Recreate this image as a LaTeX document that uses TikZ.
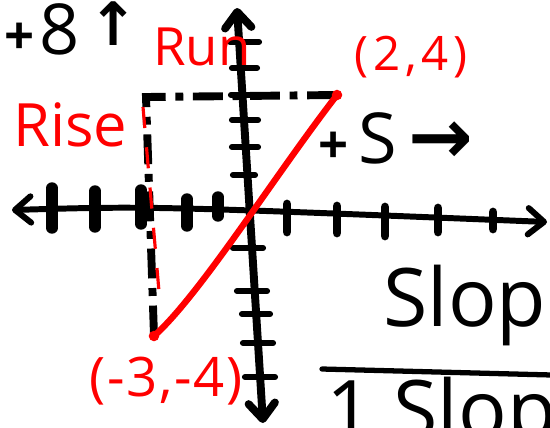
\documentclass[tikz,border=0pt]{standalone}
\usepackage{fontspec}
\setmainfont{Open Sans}
\newfontfamily\arrowfont{DejaVu Sans}
\usetikzlibrary{arrows.meta,positioning}
\tikzset{
  axisline/.style  = {line width=3.4pt, line cap=round,
                      {Straight Barb[length=9pt,width=15pt,round]}-{Straight Barb[length=9pt,width=15pt,round]}},
  tickmark/.style  = {line width=3.5pt, line cap=round},
  riserun/.style   = {line width=4.5pt, dash pattern=on 17pt off 5.5pt on 4.5pt off 5.5pt},
  slopeline/.style = {red, line width=3.6pt, line cap=round},
  redtext/.style   = {text=red, inner sep=0pt},
  blacktext/.style = {text=black, inner sep=0pt},
}
\newcommand{\handsize}[1]{\fontsize{#1}{#1}\selectfont}
\begin{document}
\begin{tikzpicture}[x=0.02cm, y=-0.02cm]
\useasboundingbox (0,0) rectangle (550,427);
\clip (0,0) rectangle (550,427);

% axes
\coordinate (xL) at (12,210);
\coordinate (xR) at (547,222);
\coordinate (yT) at (237,8);
\coordinate (yB) at (263,423);
\draw[axisline] (xL) .. controls (150,206) .. (xR);
\draw[axisline, line width=4.5pt] (yT) -- (yB);

% tick marks
\foreach \tx/\ta/\tb in {52/188/228, 95/191/227, 141/190/224, 187/199/226, 218/197/216}
  \draw[tickmark, line width=6.5pt] (\tx,\ta) -- (\tx,\tb);
\foreach \tx/\ta/\tb in {287/204/232, 337/206/233, 385/207/236, 438/208/232, 493/212/229}
  \draw[tickmark, line width=5pt] (\tx,\ta) -- (\tx,\tb);
\foreach \ty/\ta/\tb in {42/230/259, 68/232/257, 95/231/258, 120/232/258, 147/232/258, 175/233/255,
                         248/233/263, 291/237/267, 314/242/270, 343/243/273, 377/245/275}
  \draw[tickmark] (\ta,\ty) -- (\tb,\ty);

% rise and run
\coordinate (cTL) at (146,97);
\coordinate (pA) at (154,336);
\coordinate (pB) at (337,95);
\draw[riserun] (pB) -- (cTL) -- (pA);
\coordinate (rT) at (143,107);
\coordinate (rB) at (160,303);
\draw[red, line width=1.8pt, dash pattern=on 12pt off 11pt] (rT) -- (rB);

% the line through both points
\draw[slopeline] (pA) .. controls (200,295) and (275,175) .. (pB);
\fill[red] (pA) circle [radius=3pt];
\fill[red] (pB) circle [radius=3pt];

% labels
\node[blacktext, anchor=base west] (riseval) at (4,54)
  {{\bfseries\handsize{30}+}\hspace{3pt}{\handsize{40}8}\hspace{5pt}\raisebox{5pt}{\arrowfont\bfseries\handsize{34}↑}};
\node[redtext, anchor=base west] (runlbl) at (153,65) {\handsize{30}Run};
\node[redtext, anchor=base west] (riselbl) at (13,146) {\handsize{34}Rise};
\node[redtext] (ptB) at (411,57) {\handsize{27}\addfontfeature{LetterSpace=10}(2,4)};
\node[redtext] (ptA) at (166,381) {\handsize{31}\addfontfeature{LetterSpace=3}(-3,-4)};
\node[blacktext, anchor=base west] (runval) at (318,163)
  {{\bfseries\handsize{30}+}\hspace{6pt}{\handsize{40}S}\hspace{6pt}{\arrowfont\bfseries\handsize{44}→}};

% slope fraction
\node[blacktext, anchor=base west] (slopetop) at (383,326) {\handsize{46}Slop};
\coordinate (barL) at (322,369);
\coordinate (barR) at (552,375);
\draw[line width=3pt, line cap=round] (barL) -- (barR);
\node[blacktext, anchor=base west] (slopebot) at (326,438) {\handsize{46}1 Slope};
\end{tikzpicture}
\end{document}
